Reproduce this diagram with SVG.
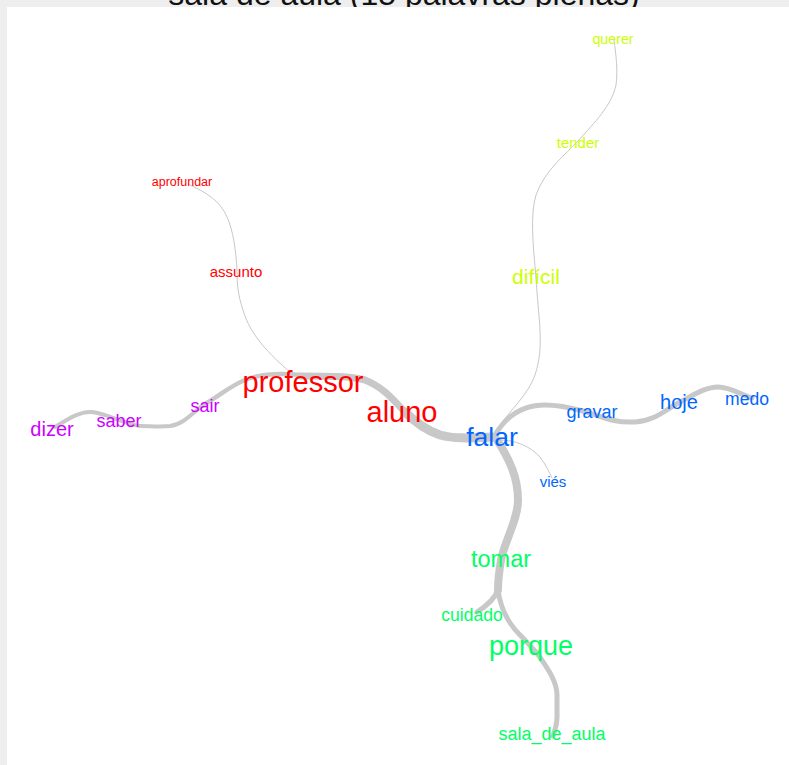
<svg xmlns="http://www.w3.org/2000/svg" width="789" height="765" viewBox="0 0 789 765">
<style>
text{font-family:"Liberation Sans",Arial,sans-serif;text-anchor:middle}
.e{fill:none;stroke:#c8c8c8;stroke-linecap:round;stroke-linejoin:round}
.r{fill:#ff0000}.y{fill:#ccff00}.g{fill:#00ff66}.b{fill:#0066ff}.p{fill:#cc00ff}
</style>
<rect x="0" y="0" width="789" height="765" fill="#eeeeee"/>
<text x="404" y="5" font-size="32" fill="#111">sala de aula (15 palavras plenas)</text>
<rect x="7" y="7" width="782" height="758" fill="#ffffff"/>
<g id="edges">
<path class="e" stroke-width="4" d="M55,427 C68,419 80,411 92,412 C108,414 122,423 140,426"/>
<path class="e" stroke-width="4" d="M140,426 C150,426 160,427 170,426 C185,424 195,410 205,404"/>
<path class="e" stroke-width="4.5" d="M205,404 C220,395 232,385 245,380 C262,373 280,373 300,375"/>
<path class="e" stroke-width="7" d="M300,376 C330,376 350,376 365,380 C385,388 395,402 405,412"/>
<path class="e" stroke-width="9" d="M405,412 C415,422 425,430 440,435 C455,439 470,438 492,437"/>
<path class="e" stroke-width="5" d="M495,435 C505,418 520,405 545,405 C565,405 578,410 590,413"/>
<path class="e" stroke-width="5" d="M590,413 C605,418 615,423 635,422 C655,421 665,410 680,402"/>
<path class="e" stroke-width="5" d="M680,402 C692,396 705,387 718,387 C730,387 740,394 752,398"/>
<path class="e" stroke-width="1" d="M500,440 C515,440 530,446 540,457 C546,465 549,472 552,478"/>
<path class="e" stroke-width="1" d="M498,428 C510,410 528,395 535,375 C545,345 538,318 536,277"/>
<path class="e" stroke-width="1" d="M536,277 C533,245 530,215 536,195 C545,170 565,155 578,141"/>
<path class="e" stroke-width="1" d="M578,141 C595,122 612,105 616,85 C618,70 616,55 614,40"/>
<path class="e" stroke-width="1" d="M290,372 C270,355 250,335 243,310 C238,295 237,285 237,270"/>
<path class="e" stroke-width="1" d="M237,270 C236,250 233,230 227,217 C220,200 205,192 188,184"/>
<path class="e" stroke-width="8" d="M497,440 C510,460 518,478 518,500 C518,520 505,540 501,560 C499,572 498,582 498,590"/>
<path class="e" stroke-width="5" d="M498,590 C495,598 488,605 477,612"/>
<path class="e" stroke-width="5" d="M498,590 C500,605 505,620 520,635 C528,643 532,648 537,653"/>
<path class="e" stroke-width="5" d="M537,653 C545,665 557,680 557,695 L557,717 C557,725 555,730 553,736"/>
</g>
<g id="node-professor"><text class="r" x="303" y="392" font-size="29">professor</text></g>
<g id="node-aluno"><text class="r" x="402" y="422" font-size="29">aluno</text></g>
<g id="node-assunto"><text class="r" x="236" y="277" font-size="15">assunto</text></g>
<g id="node-aprofundar"><text class="r" x="182" y="186" font-size="12.5">aprofundar</text></g>
<g id="node-falar"><text class="b" x="492" y="446" font-size="26.5">falar</text></g>
<g id="node-gravar"><text class="b" x="592" y="418" font-size="18">gravar</text></g>
<g id="node-hoje"><text class="b" x="679" y="409" font-size="20">hoje</text></g>
<g id="node-medo"><text class="b" x="747" y="405" font-size="17.5">medo</text></g>
<g id="node-vies"><text class="b" x="553" y="487" font-size="15">viés</text></g>
<g id="node-dificil"><text class="y" x="536" y="284" font-size="21">difícil</text></g>
<g id="node-tender"><text class="y" x="578" y="148" font-size="15">tender</text></g>
<g id="node-querer"><text class="y" x="613" y="44" font-size="14.2">querer</text></g>
<g id="node-tomar"><text class="g" x="501" y="567" font-size="23.5">tomar</text></g>
<g id="node-cuidado"><text class="g" x="472" y="621" font-size="17.5">cuidado</text></g>
<g id="node-porque"><text class="g" x="531" y="655" font-size="27">porque</text></g>
<g id="node-sala_de_aula"><text class="g" x="552" y="740" font-size="18">sala_de_aula</text></g>
<g id="node-sair"><text class="p" x="205" y="412" font-size="18">sair</text></g>
<g id="node-saber"><text class="p" x="119" y="427" font-size="18">saber</text></g>
<g id="node-dizer"><text class="p" x="52" y="436" font-size="20">dizer</text></g>
</svg>
